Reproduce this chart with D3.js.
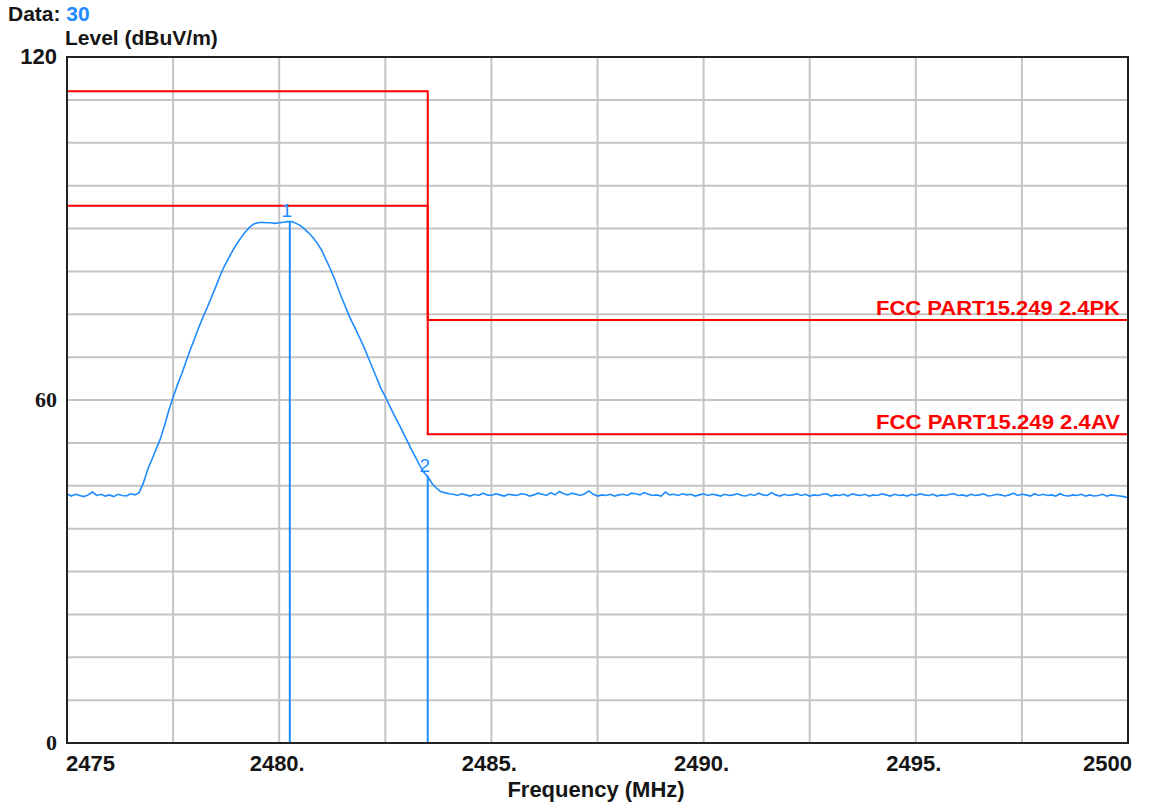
<!DOCTYPE html>
<html>
<head>
<meta charset="utf-8">
<script src="https://cdn.jsdelivr.net/npm/d3@7"></script>
<style>
  body { margin: 0; background: #fff; }
  text { font-family: "Liberation Sans", Arial, sans-serif; }
</style>
</head>
<body>
<script>
// sweep 2475 - 2500 MHz, 0.1 MHz step
var fStart = 2475, fStop = 2500;
var levels = [
  43.6,43.2,43.5,43.3,43.1,43.4,43.9,43.3,43.5,43.2,43.4,43.1,43.5,43.3,43.2,43.6,43.4,
  43.8,45.5,47.8,49.6,51.4,53.2,55.6,58.2,60.5,62.6,64.5,66.6,68.7,70.6,72.6,74.4,76.1,77.9,
  79.7,81.6,83.3,84.7,86.1,87.3,88.4,89.4,90.2,90.8,91.0,91.1,91.0,91.0,90.9,91.0,91.1,91.2,
  91.2,90.9,90.5,89.9,89.2,88.4,87.4,86.2,84.6,83.0,81.3,79.3,77.4,75.6,73.9,72.4,70.8,69.2,
  67.4,65.6,63.8,62.0,60.6,59.0,57.5,56.1,54.6,53.1,51.6,50.2,48.7,47.4,46.6,45.4,44.6,44.0,
  43.8,43.6,
  43.5,43.3,43.6,43.4,43.2,43.5,43.3,43.7,43.4,43.3,
  43.6,43.4,43.2,43.5,43.4,43.3,43.6,43.5,43.2,43.4,
  43.7,43.5,43.3,43.8,43.4,44.0,43.6,43.4,43.7,43.5,
  43.3,43.6,44.1,43.5,43.2,43.4,43.3,43.5,43.2,43.4,
  43.5,43.3,43.7,43.6,43.4,43.8,43.5,43.3,43.4,43.2,
  43.9,43.4,43.5,43.3,43.6,43.4,43.5,43.2,43.4,43.6,
  43.3,43.5,43.4,43.2,43.5,43.3,43.4,43.6,43.3,43.2,
  43.5,43.3,43.7,43.4,43.3,43.8,43.4,43.2,43.5,43.3,
  43.4,43.6,43.3,43.5,43.2,43.4,43.3,43.5,43.6,43.2,
  43.4,43.3,43.5,43.2,43.6,43.4,43.3,43.5,43.2,43.4,
  43.3,43.6,43.4,43.2,43.5,43.3,43.4,43.2,43.5,43.3,
  43.6,43.4,43.3,43.5,43.2,43.4,43.3,43.5,43.6,43.3,
  43.4,43.2,43.5,43.3,43.4,43.6,43.2,43.3,43.5,43.4,
  43.2,43.4,43.7,43.3,43.5,43.4,43.2,43.6,43.3,43.5,
  43.3,43.4,43.2,43.6,43.3,43.2,43.4,43.3,43.5,43.2,
  43.4,43.2,43.3,43.5,43.2,43.4,43.3,43.2,43.1,42.9
];

// limit lines (step at 2483.5 MHz)
var limitPK = [[2475, 114], [2483.5, 114], [2483.5, 74], [2500, 74]];
var limitAV = [[2475, 94], [2483.5, 94], [2483.5, 54], [2500, 54]];
var limitNames = ["FCC PART15.249 2.4PK", "FCC PART15.249 2.4AV"];

var markers = [
  { id: "1", freq: 2480.25, level: 91.2 },
  { id: "2", freq: 2483.5, level: 46.6 }
];

var xTicks = [2475, 2480, 2485, 2490, 2495, 2500];
var xTickLabels = ["2475", "2480.", "2485.", "2490.", "2495.", "2500"];
var yTicks = [0, 60, 120];

function drawChart() {
  var width = 1153, height = 803;
  var pLeft = 67, pRight = 1128, pTop = 57, pBottom = 743;
  var ink = "#151515", blue = "#1e8cff", red = "#ff0000";

  var svg = d3.select("body").append("svg")
    .attr("width", width)
    .attr("height", height);

  var x = d3.scaleLinear().domain([fStart, fStop]).range([pLeft, pRight]);
  var y = d3.scaleLinear().domain([0, 120]).range([pBottom, pTop]);

  var trace = levels.map(function (v, i) {
    return [fStart + i * (fStop - fStart) / (levels.length - 1), v];
  });

  // grid
  svg.append("g").selectAll("line")
    .data(d3.range(fStart + 2.5, fStop, 2.5))
    .enter().append("line")
    .attr("x1", function (d) { return x(d); }).attr("x2", function (d) { return x(d); })
    .attr("y1", pTop).attr("y2", pBottom)
    .attr("stroke", "#c4c4c4").attr("stroke-width", 2);

  svg.append("g").selectAll("line")
    .data(d3.range(7.5, 120, 7.5))
    .enter().append("line")
    .attr("x1", pLeft).attr("x2", pRight)
    .attr("y1", function (d) { return y(d); }).attr("y2", function (d) { return y(d); })
    .attr("stroke", "#c4c4c4").attr("stroke-width", 2);

  var line = d3.line()
    .x(function (d) { return x(d[0]); })
    .y(function (d) { return y(d[1]); });

  // limits
  [limitPK, limitAV].forEach(function (lim, i) {
    svg.append("path")
      .attr("d", line(lim))
      .attr("fill", "none")
      .attr("stroke", red)
      .attr("stroke-width", 2);
    var last = lim[lim.length - 1];
    svg.append("text")
      .attr("x", x(fStop) - 8)
      .attr("y", y(last[1]) - 5)
      .attr("text-anchor", "end")
      .attr("fill", red)
      .attr("font-weight", "bold")
      .attr("font-size", 21)
      .attr("textLength", 244)
      .attr("lengthAdjust", "spacingAndGlyphs")
      .text(limitNames[i]);
  });

  // markers
  svg.append("g").selectAll("line")
    .data(markers)
    .enter().append("line")
    .attr("x1", function (d) { return x(d.freq); }).attr("x2", function (d) { return x(d.freq); })
    .attr("y1", function (d) { return y(d.level); }).attr("y2", pBottom)
    .attr("stroke", blue).attr("stroke-width", 2);

  svg.append("g").selectAll("text")
    .data(markers)
    .enter().append("text")
    .attr("x", function (d) { return x(d.freq) - 3; })
    .attr("y", function (d) { return y(d.level) - 5; })
    .attr("text-anchor", "middle")
    .attr("fill", blue)
    .attr("font-size", 19)
    .text(function (d) { return d.id; });

  // trace
  svg.append("path")
    .datum(trace)
    .attr("d", line)
    .attr("fill", "none")
    .attr("stroke", blue)
    .attr("stroke-width", 1.6);

  // frame
  svg.append("rect")
    .attr("x", pLeft).attr("y", pTop)
    .attr("width", pRight - pLeft).attr("height", pBottom - pTop)
    .attr("fill", "none")
    .attr("stroke", "#222")
    .attr("stroke-width", 2);

  // axis labels
  svg.append("g").selectAll("text")
    .data(xTicks)
    .enter().append("text")
    .attr("x", function (d, i) { return i === 0 ? x(d) - 1 : i === xTicks.length - 1 ? x(d) + 4 : x(d) - 2; })
    .attr("y", 771)
    .attr("text-anchor", function (d, i) { return i === 0 ? "start" : i === xTicks.length - 1 ? "end" : "middle"; })
    .attr("font-weight", "bold")
    .attr("font-size", 22)
    .attr("fill", ink)
    .text(function (d, i) { return xTickLabels[i]; });

  svg.append("g").selectAll("text")
    .data(yTicks)
    .enter().append("text")
    .attr("x", pLeft - 10)
    .attr("y", function (d) { return y(d) + 7; })
    .attr("text-anchor", "end")
    .attr("font-weight", "bold")
    .attr("font-size", 22)
    .attr("fill", ink)
    .style("font-family", function (d) { return d === 120 ? "Liberation Sans" : "Liberation Serif"; })
    .text(function (d) { return d; });

  svg.append("text")
    .attr("x", 596)
    .attr("y", 797)
    .attr("text-anchor", "middle")
    .attr("font-weight", "bold")
    .attr("font-size", 22)
    .attr("fill", ink)
    .text("Frequency (MHz)");

  svg.append("text")
    .attr("x", 65)
    .attr("y", 45)
    .attr("font-weight", "bold")
    .attr("font-size", 21)
    .attr("fill", ink)
    .text("Level (dBuV/m)");

  var dataLabel = svg.append("text")
    .attr("x", 8)
    .attr("y", 21)
    .attr("font-weight", "bold")
    .attr("font-size", 21)
    .attr("fill", ink);
  dataLabel.append("tspan").text("Data: ");
  dataLabel.append("tspan").attr("fill", blue).text("30");
}

drawChart();
</script>
</body>
</html>
